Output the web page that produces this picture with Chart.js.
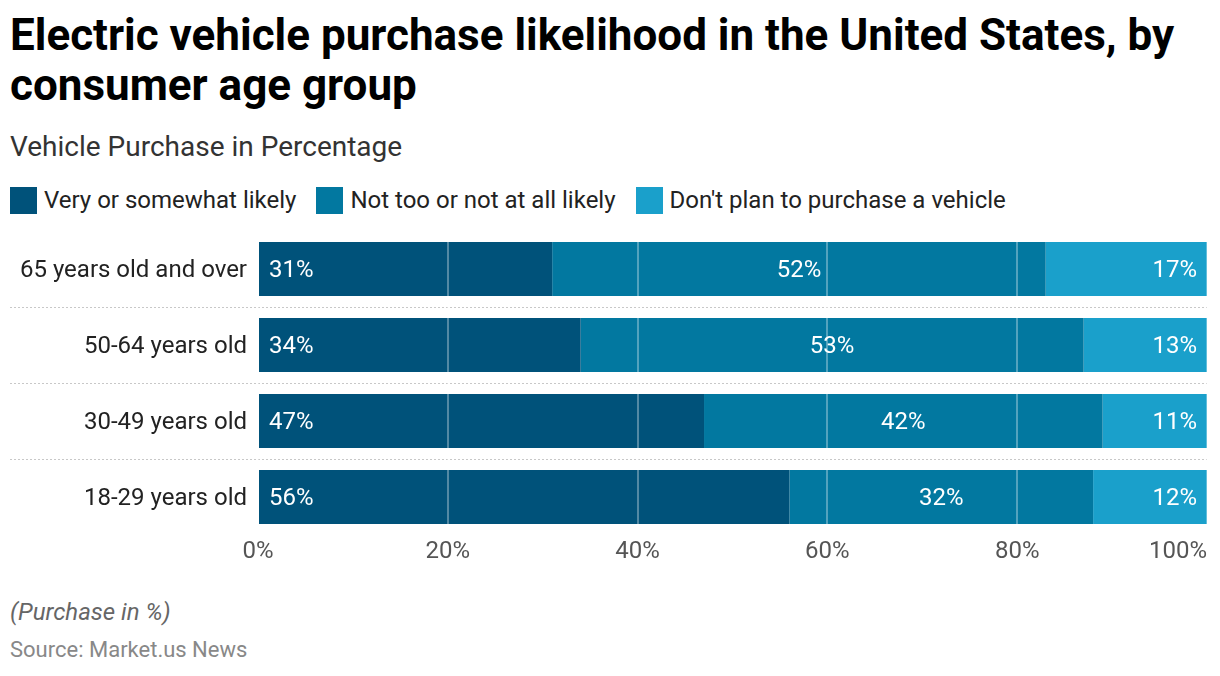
<!DOCTYPE html>
<html>
<head>
<meta charset="utf-8">
<script src="https://cdn.jsdelivr.net/npm/chart.js@4.4.1/dist/chart.umd.min.js"></script>
<style>
  html, body { margin:0; padding:0; background:#fff; }
  body { width:1220px; height:676px; position:relative; overflow:hidden; font-family: Roboto, "Noto Sans", sans-serif; }
  #title { position:absolute; left:10px; top:10px; width:1200px; font-weight:700; font-size:44px; line-height:50px; color:#000; }
  #subtitle { position:absolute; left:10px; top:130px; font-size:28px; color:#333; }
  #legend { position:absolute; left:10px; top:186px; display:flex; font-size:24px; line-height:28px; color:#222; }
  .li { display:flex; align-items:center; margin-right:20px; }
  .sw { width:27px; height:27px; margin-right:7px; }
  #wrap { position:absolute; left:0; top:231px; width:1220px; height:349px; }
  #note { position:absolute; left:10px; top:598px; font-size:24px; line-height:28px; font-style:italic; color:#666; }
  #source { position:absolute; left:10px; top:637px; font-size:22px; line-height:26px; color:#888; }
</style>
</head>
<body>
<div id="title">Electric vehicle purchase likelihood in the United States, by consumer age group</div>
<div id="subtitle">Vehicle Purchase in Percentage</div>
<div id="legend"></div>
<div id="wrap"><canvas id="c"></canvas></div>
<div id="note">(Purchase in %)</div>
<div id="source">Source: Market.us News</div>
<script>
const categories = ["65 years old and over", "50-64 years old", "30-49 years old", "18-29 years old"];
const seriesNames = ["Very or somewhat likely", "Not too or not at all likely", "Don't plan to purchase a vehicle"];
const veryLikely = [31, 34, 47, 56];
const notLikely = [52, 53, 42, 32];
const noPlan = [17, 13, 11, 12];
const xTicks = ["0%", "20%", "40%", "60%", "80%", "100%"];
const colors = ["#00527a", "#0278a0", "#1aa0cb"];

const legend = document.getElementById('legend');
seriesNames.forEach((n, i) => {
  const d = document.createElement('div'); d.className = 'li';
  d.innerHTML = '<span class="sw" style="background:' + colors[i] + '"></span><span>' + n + '</span>';
  legend.appendChild(d);
});

const separators = {
  id: 'separators',
  beforeDatasetsDraw(chart) {
    const ctx = chart.ctx, y = chart.scales.y, area = chart.chartArea;
    ctx.save();
    ctx.strokeStyle = '#c8c8c8'; ctx.lineWidth = 1; ctx.setLineDash([2, 2]);
    for (let i = 0; i < categories.length - 1; i++) {
      const py = Math.round((y.getPixelForValue(i) + y.getPixelForValue(i + 1)) / 2) + 0.5;
      ctx.beginPath(); ctx.moveTo(10, py); ctx.lineTo(area.right, py); ctx.stroke();
    }
    ctx.restore();
  }
};

const barLabels = {
  id: 'barLabels',
  afterDatasetsDraw(chart) {
    const ctx = chart.ctx;
    ctx.save();
    ctx.font = '24px Roboto';
    ctx.fillStyle = '#fff';
    ctx.textBaseline = 'middle';
    chart.data.datasets.forEach((ds, di) => {
      const meta = chart.getDatasetMeta(di);
      meta.data.forEach((bar, i) => {
        const left = Math.min(bar.x, bar.base), right = Math.max(bar.x, bar.base);
        const txt = ds.data[i] + '%';
        const ty = bar.y + 2;
        if (di === 0) { ctx.textAlign = 'left'; ctx.fillText(txt, left + 10, ty); }
        else if (di === chart.data.datasets.length - 1) { ctx.textAlign = 'right'; ctx.fillText(txt, right - 10, ty); }
        else { ctx.textAlign = 'center'; ctx.fillText(txt, (left + right) / 2, ty); }
      });
    });
    ctx.restore();
  }
};

const xLabels = {
  id: 'xLabels',
  afterDraw(chart) {
    const ctx = chart.ctx, x = chart.scales.x, area = chart.chartArea;
    ctx.save();
    ctx.font = '24px Roboto';
    ctx.fillStyle = '#555';
    ctx.textBaseline = 'middle';
    xTicks.forEach((t, i) => {
      const px = x.getPixelForValue(i * 20);
      ctx.textAlign = i === xTicks.length - 1 ? 'right' : 'center';
      ctx.fillText(t, px, area.bottom + 17);
    });
    ctx.restore();
  }
};

new Chart(document.getElementById('c'), {
  type: 'bar',
  data: {
    labels: categories,
    datasets: [
      { label: seriesNames[0], data: veryLikely, backgroundColor: colors[0] },
      { label: seriesNames[1], data: notLikely, backgroundColor: colors[1] },
      { label: seriesNames[2], data: noPlan, backgroundColor: colors[2] }
    ]
  },
  options: {
    indexAxis: 'y',
    responsive: true,
    maintainAspectRatio: false,
    animation: false,
    datasets: { bar: { categoryPercentage: 1, barPercentage: 0.71, borderWidth: 0 } },
    layout: { padding: { top: 0, right: 13, bottom: 0, left: 0 } },
    plugins: { legend: { display: false }, tooltip: { enabled: false }, title: { display: false } },
    scales: {
      x: {
        stacked: true, min: 0, max: 100,
        ticks: { display: false, stepSize: 20 },
        grid: { color: 'rgba(255,255,255,0.32)', lineWidth: 2, drawTicks: false, z: 1 },
        border: { display: false },
        afterFit(s) { s.height = 45; }
      },
      y: {
        stacked: true,
        grid: { display: false, drawTicks: false },
        border: { display: false },
        ticks: { color: '#222', font: { family: 'Roboto', size: 24 }, padding: 11, labelOffset: 2 },
        afterFit(s) { s.width = 258; s.paddingTop = 0; s.paddingBottom = 0; }
      }
    }
  },
  plugins: [separators, barLabels, xLabels]
});
</script>
</body>
</html>
